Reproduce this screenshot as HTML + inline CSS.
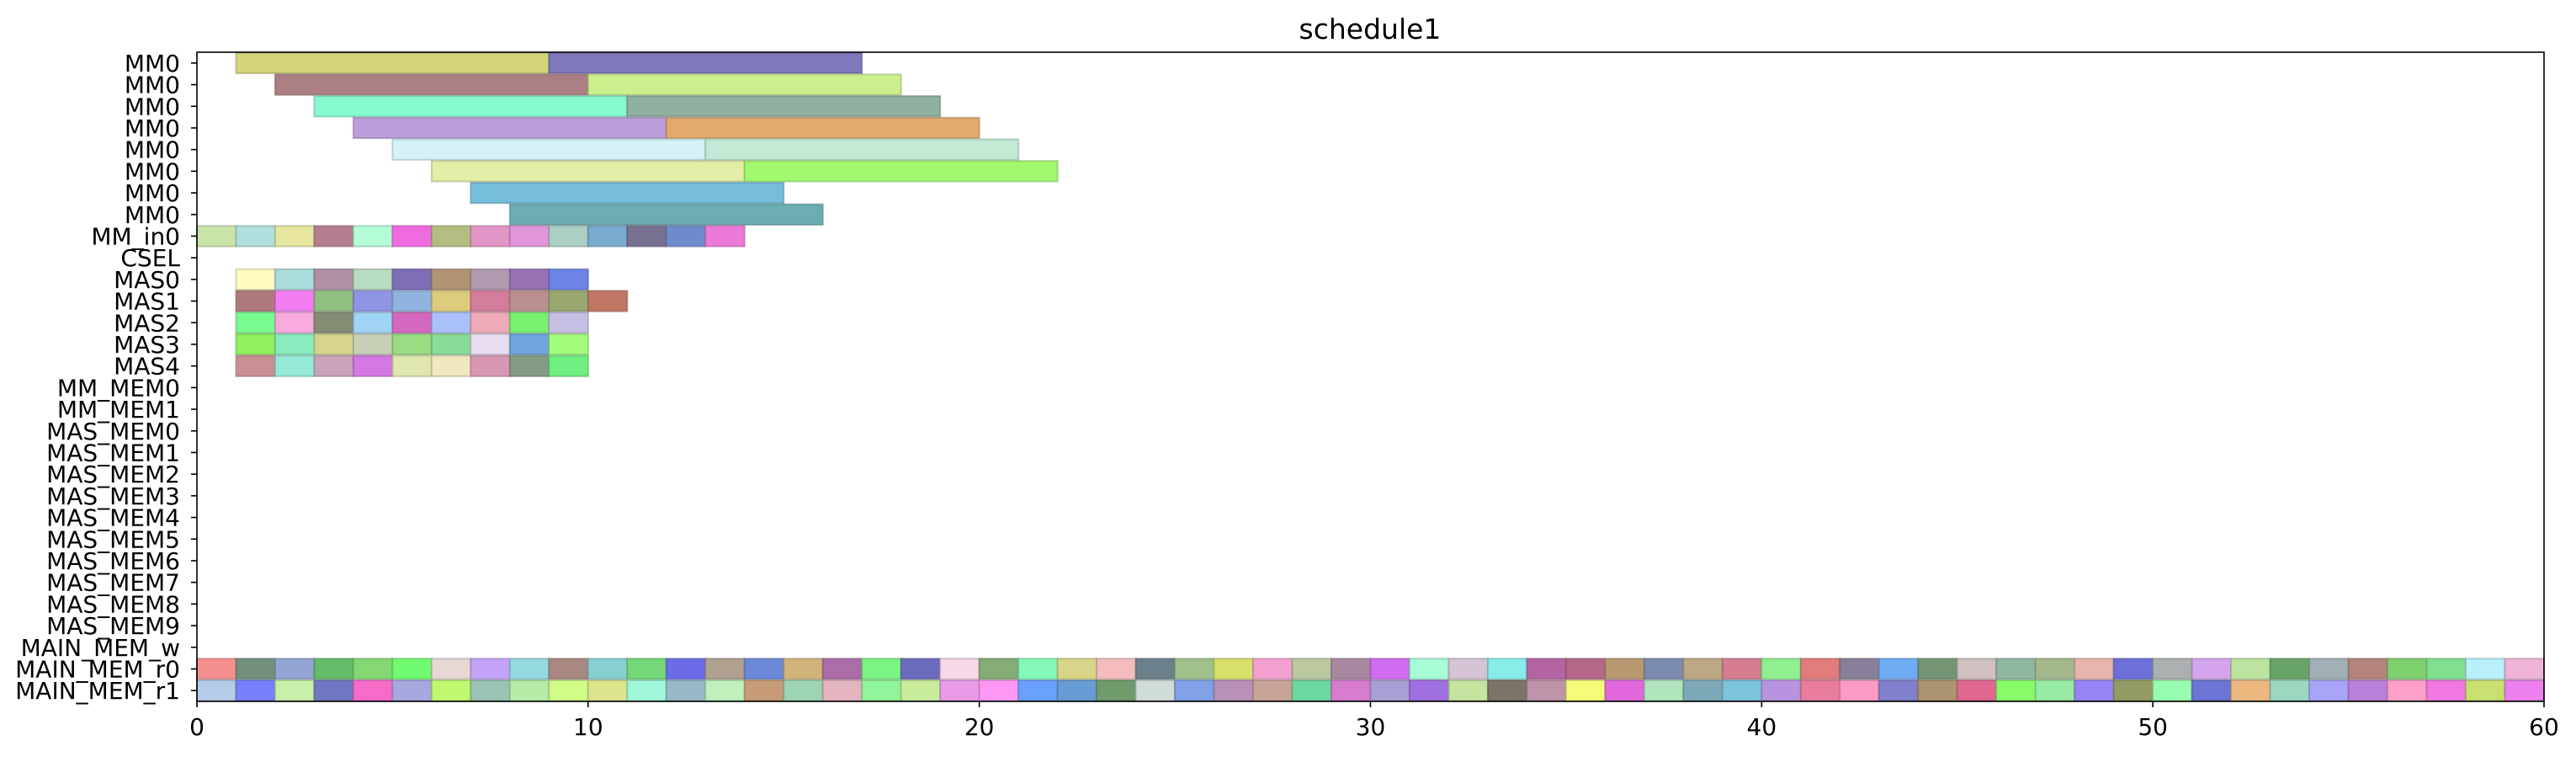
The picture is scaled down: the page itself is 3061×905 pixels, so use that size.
<!DOCTYPE html>
<html><head><meta charset="utf-8"><style>
body{margin:0;background:#fff;}
svg text{font-family:"DejaVu Sans","Liberation Sans",sans-serif;}
</style></head><body>
<svg id="chart" width="3061" height="900" xmlns="http://www.w3.org/2000/svg">
<text x="1628" y="46" font-size="33" text-anchor="middle">schedule1</text>
<g id="bars"></g>
<g id="axes"></g>
</svg>
<script>
const rowLabels = ["MM0","MM0","MM0","MM0","MM0","MM0","MM0","MM0","MM_in0","CSEL","MAS0","MAS1","MAS2","MAS3","MAS4","MM_MEM0","MM_MEM1","MAS_MEM0","MAS_MEM1","MAS_MEM2","MAS_MEM3","MAS_MEM4","MAS_MEM5","MAS_MEM6","MAS_MEM7","MAS_MEM8","MAS_MEM9","MAIN_MEM_w","MAIN_MEM_r0","MAIN_MEM_r1"];
const xTicks = [0,10,20,30,40,50,60];
// long tasks: [row, start, end, color]
const longTasks = [
 [0,1,9,"#d4d47a"],[0,9,17,"#7f78bb"],
 [1,2,10,"#ab7f84"],[1,10,18,"#ccef8e"],
 [2,3,11,"#86f9cf"],[2,11,19,"#90b0a0"],
 [3,4,12,"#bc9edb"],[3,12,20,"#e1ab6e"],
 [4,5,13,"#d4f2f7"],[4,13,21,"#c4ead6"],
 [5,6,14,"#e2eea6"],[5,14,22,"#a2f96f"],
 [6,7,15,"#75bedc"],
 [7,8,16,"#6aaeb4"]
];
const mmIn0Colors = ["#c8e4a9","#b0e0de","#e6e6a0","#b47e8f","#b4fcd8","#ef6ce0","#b4bd80","#e296c6","#e195db","#abcfc4","#78abcf","#787090","#6f8bcb","#ec7ad8"];
const mas0Colors = ["#fffac0","#aadcdc","#b090a4","#b8dcc0","#7f6db8","#b09474","#b09ab0","#9870b4","#6c84e4"];
const mas1Colors = ["#ae7a7c","#f27ef2","#90c080","#9094e4","#90b4e0","#dccc7c","#d47c9c","#bc9090","#98a870","#c07864"];
const mas2Colors = ["#78fa90","#f8aadc","#848c74","#a0d4f4","#d468c0","#aac0f8","#eeaab8","#78f070","#c8c0e4"];
const mas3Colors = ["#90f060","#88ecc0","#d4d48c","#c8d0b8","#98dc84","#88dc98","#e8dcf0","#70a4dc","#a4fc7c"];
const mas4Colors = ["#c89094","#96ead8","#c8a4b8","#d478e4","#e0e8b0","#f0e8c0","#d898b4","#849c84","#70f080"];
const r0Colors = ["#f49090","#74907c","#94a4d4","#64bc68","#84d874","#70fc70","#e8d8d4","#c4a4f8","#94d8e0","#a88880","#88d0d0","#74d878","#6c6ce8","#b0a090","#6c88d8","#d0b47c","#ac6ca8","#7cf484","#6c6cbc","#f8d8e8","#84ac74","#84f8b8","#d8d488","#f4bcbc","#6c808c","#a0c08c","#d8e06c","#f4a0d0","#bcc8a0","#a888a0","#d06cf0","#a8fcd8","#d4c4d4","#88ece8","#b464a0","#b46888","#b89870","#7c8cb0","#bca884","#d47c90","#90f090","#e07c7c","#888098","#70acf4","#749474","#d0c0c0","#90b8a0","#a4b88c","#e8b4ac","#6c70d8","#acb0b0","#d4a4ec","#bce4a0","#68a468","#a0b0b4","#b4847c","#80d070","#80e090","#b8f0fc","#f0b4d8"];
const r1Colors = ["#b4cce8","#7880fc","#c8f0a8","#7078c4","#f46cc8","#a8a8e0","#c0f870","#9cc4b4","#b4eca8","#d0fc88","#dce48c","#a0f8d8","#98b8c8","#c0f0bc","#c89c78","#9cd4b4","#e4b4c0","#90f498","#c8ec9c","#e89ce8","#ff98f4","#68a0fc","#689cd4","#709c6c","#d0dcd8","#80a0e8","#b890b8","#c8a498","#6cd8a0","#d87cd0","#a8a0d4","#a070e0","#c4e4a0","#7c7468","#c094a8","#f4fc78","#e068dc","#b0e4bc","#7ca8b8","#7cc4dc","#b894e0","#e87c9c","#fc9cc4","#8080cc","#ac9470","#e06890","#88fc68","#98eca4","#9884f4","#949c64","#98fcb0","#6c74d4","#ecb880","#9cd8c0","#a8a4f8","#b880d8","#fca0c8","#f078e0","#c8e070","#ec80ec"];
const cellRows = [[8,0,mmIn0Colors],[10,1,mas0Colors],[11,1,mas1Colors],[12,1,mas2Colors],[13,1,mas3Colors],[14,1,mas4Colors],[28,0,r0Colors],[29,0,r1Colors]];

const X0=234, X1=3023, Y0=62, Y1=833, XMIN=0, XMAX=60;
const rowH=(Y1-Y0)/rowLabels.length;
const xs=v=>X0+(v-XMIN)/(XMAX-XMIN)*(X1-X0);
const yc=r=>Y0+(r+0.5)*rowH;
const NS="http://www.w3.org/2000/svg";
function darken(h){const n=parseInt(h.slice(1),16);const f=c=>Math.round(c*0.75);return `rgb(${f(n>>16)},${f((n>>8)&255)},${f(n&255)})`;}
const bars=document.getElementById('bars'), axes=document.getElementById('axes');
function bar(row,s,e,c){
 const r=document.createElementNS(NS,'rect');
 r.setAttribute('x',xs(s));r.setAttribute('y',yc(row)-rowH/2+0.7);
 r.setAttribute('width',xs(e)-xs(s));r.setAttribute('height',rowH-1.4);
 r.setAttribute('fill',c);r.setAttribute('stroke',darken(c));r.setAttribute('stroke-width','2');r.setAttribute('stroke-opacity','0.6');
 
 
 bars.appendChild(r);
}
longTasks.forEach(t=>bar(t[0],t[1],t[2],t[3]));
cellRows.forEach(cr=>cr[2].forEach((c,i)=>bar(cr[0],cr[1]+i,cr[1]+i+1,c)));
const fr=document.createElementNS(NS,'rect');
fr.setAttribute('x',X0);fr.setAttribute('y',Y0);fr.setAttribute('width',X1-X0);fr.setAttribute('height',Y1-Y0);
fr.setAttribute('fill','none');fr.setAttribute('stroke','#000');fr.setAttribute('stroke-width','1.6');


axes.appendChild(fr);
rowLabels.forEach((l,i)=>{
 const y=yc(i);
 const tk=document.createElementNS(NS,'line');
 tk.setAttribute('x1',X0-7);tk.setAttribute('x2',X0);tk.setAttribute('y1',y);tk.setAttribute('y2',y);tk.setAttribute('stroke','#000');tk.setAttribute('stroke-width','1.6');
 
 
 axes.appendChild(tk);
 const t=document.createElementNS(NS,'text');
 t.setAttribute('x',X0-20);t.setAttribute('y',y+10);t.setAttribute('font-size','28');t.setAttribute('text-anchor','end');
 t.textContent=l;
 
 
 axes.appendChild(t);
});
xTicks.forEach(v=>{
 const x=xs(v);
 const tk=document.createElementNS(NS,'line');
 tk.setAttribute('x1',x);tk.setAttribute('x2',x);tk.setAttribute('y1',Y1);tk.setAttribute('y2',Y1+7);tk.setAttribute('stroke','#000');tk.setAttribute('stroke-width','1.6');
 
 
 axes.appendChild(tk);
 const t=document.createElementNS(NS,'text');
 t.setAttribute('x',x);t.setAttribute('y',Y1+40);t.setAttribute('font-size','28');t.setAttribute('text-anchor','middle');
 t.textContent=String(v);
 
 
 axes.appendChild(t);
});
</script>
</body></html>
